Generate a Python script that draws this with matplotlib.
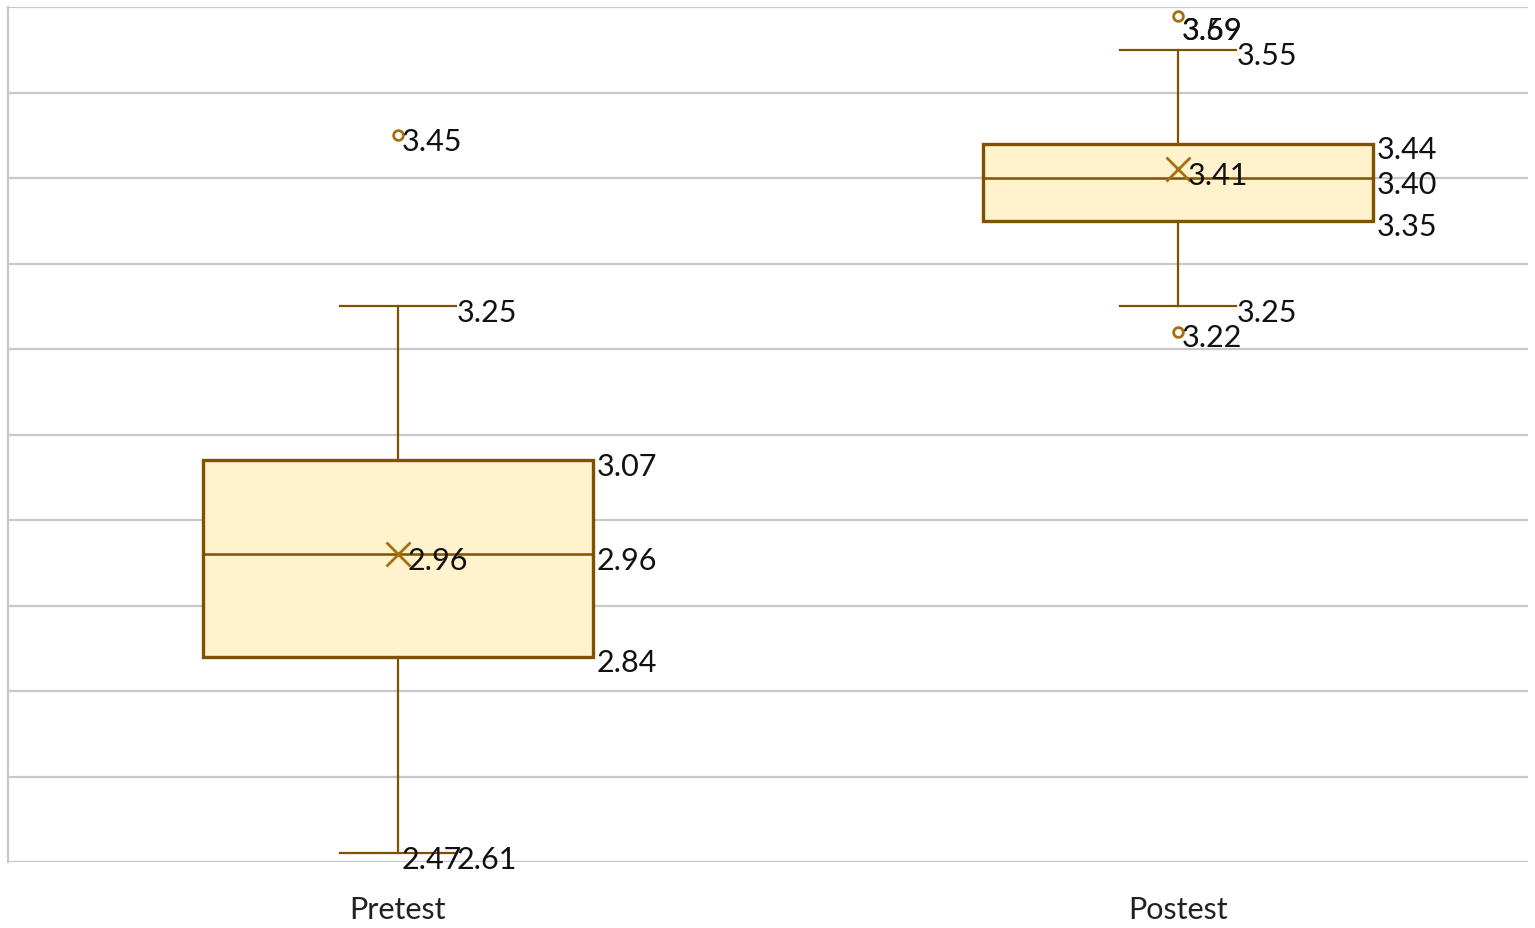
import matplotlib
matplotlib.use("Agg")
import matplotlib.pyplot as plt
import numpy as np

categories = ["Pretest", "Postest"]
q1 = [2.84, 3.35]
median = [2.96, 3.40]
q3 = [3.07, 3.44]
mean = [2.96, 3.41]
whisker_low = [2.61, 3.25]
whisker_high = [3.25, 3.55]
outliers = [[3.45, 2.47], [3.59, 3.69, 3.22]]

y_min, y_max, y_step = 2.6, 3.6, 0.1

edge = "#7F5200"
fill = "#FFF2CC"
mark = "#A66F10"
grid_c = "#C8C8C8"
font = "Lato"

fig = plt.figure(figsize=(15.35, 9.29), dpi=100)
ax = fig.add_axes([8/1535, 1 - 863/929, 1520/1535, 855/929])
ax.set_xlim(-0.5, 1.449)
ax.set_ylim(y_min, y_max)
for s in ["top", "right", "bottom"]:
    ax.spines[s].set_visible(False)
ax.spines["left"].set_color(grid_c)
ax.spines["left"].set_linewidth(1.6)
ax.set_yticks(np.arange(y_min, y_max + 1e-9, y_step))
ax.set_yticklabels([])
ax.tick_params(axis="y", length=0)
ax.grid(axis="y", color=grid_c, linewidth=1.6)
ax.set_axisbelow(True)
ax.set_xticks(range(len(categories)))
ax.set_xticklabels(categories, fontsize=22, family=font, color="#222222")
ax.tick_params(axis="x", length=0, pad=24)

box_w = 0.5
cap_w = 0.148
fs = 22

def label(x, y, txt, dx=3):
    ax.annotate(txt, (x, y), xytext=(dx, -4), textcoords="offset points",
                ha="left", va="center", fontsize=fs, family=font, color="#111111",
                annotation_clip=False, zorder=6)

for i in range(len(categories)):
    x = i
    ax.add_patch(plt.Rectangle((x - box_w/2, q1[i]), box_w, q3[i] - q1[i],
                               facecolor=fill, edgecolor=edge, linewidth=2.4, zorder=3))
    ax.plot([x - box_w/2, x + box_w/2], [median[i], median[i]], color=edge, lw=1.8, zorder=4)
    ax.plot([x, x], [q3[i], whisker_high[i]], color=edge, lw=1.6, zorder=3)
    ax.plot([x, x], [q1[i], whisker_low[i]], color=edge, lw=1.6, zorder=3)
    ax.plot([x - cap_w/2, x + cap_w/2], [whisker_high[i]] * 2, color=edge, lw=1.6, zorder=3)
    ax.plot([x - cap_w/2, x + cap_w/2], [whisker_low[i]] * 2, color=edge, lw=1.6, zorder=3)
    ax.plot([x], [mean[i]], marker="x", ms=17, mew=2, color=mark, zorder=5)
    for v in outliers[i]:
        ax.plot([x], [v], marker="o", ms=7, mfc="white", mec=mark, mew=2, zorder=5, clip_on=True)
        yl = min(v, y_max - 0.02)
        if v < y_min:
            yl = y_min + 0.01
        label(x, yl, f"{v:.2f}", dx=3)
    label(x + box_w/2, q3[i], f"{q3[i]:.2f}")
    label(x + box_w/2, median[i], f"{median[i]:.2f}")
    label(x + box_w/2, q1[i], f"{q1[i]:.2f}")
    label(x + cap_w/2, whisker_high[i], f"{whisker_high[i]:.2f}", dx=1)
    label(x + cap_w/2, whisker_low[i], f"{whisker_low[i]:.2f}", dx=1)
    label(x, mean[i], f"{mean[i]:.2f}", dx=7)

fig.savefig("out.png", dpi=100, facecolor="white")
